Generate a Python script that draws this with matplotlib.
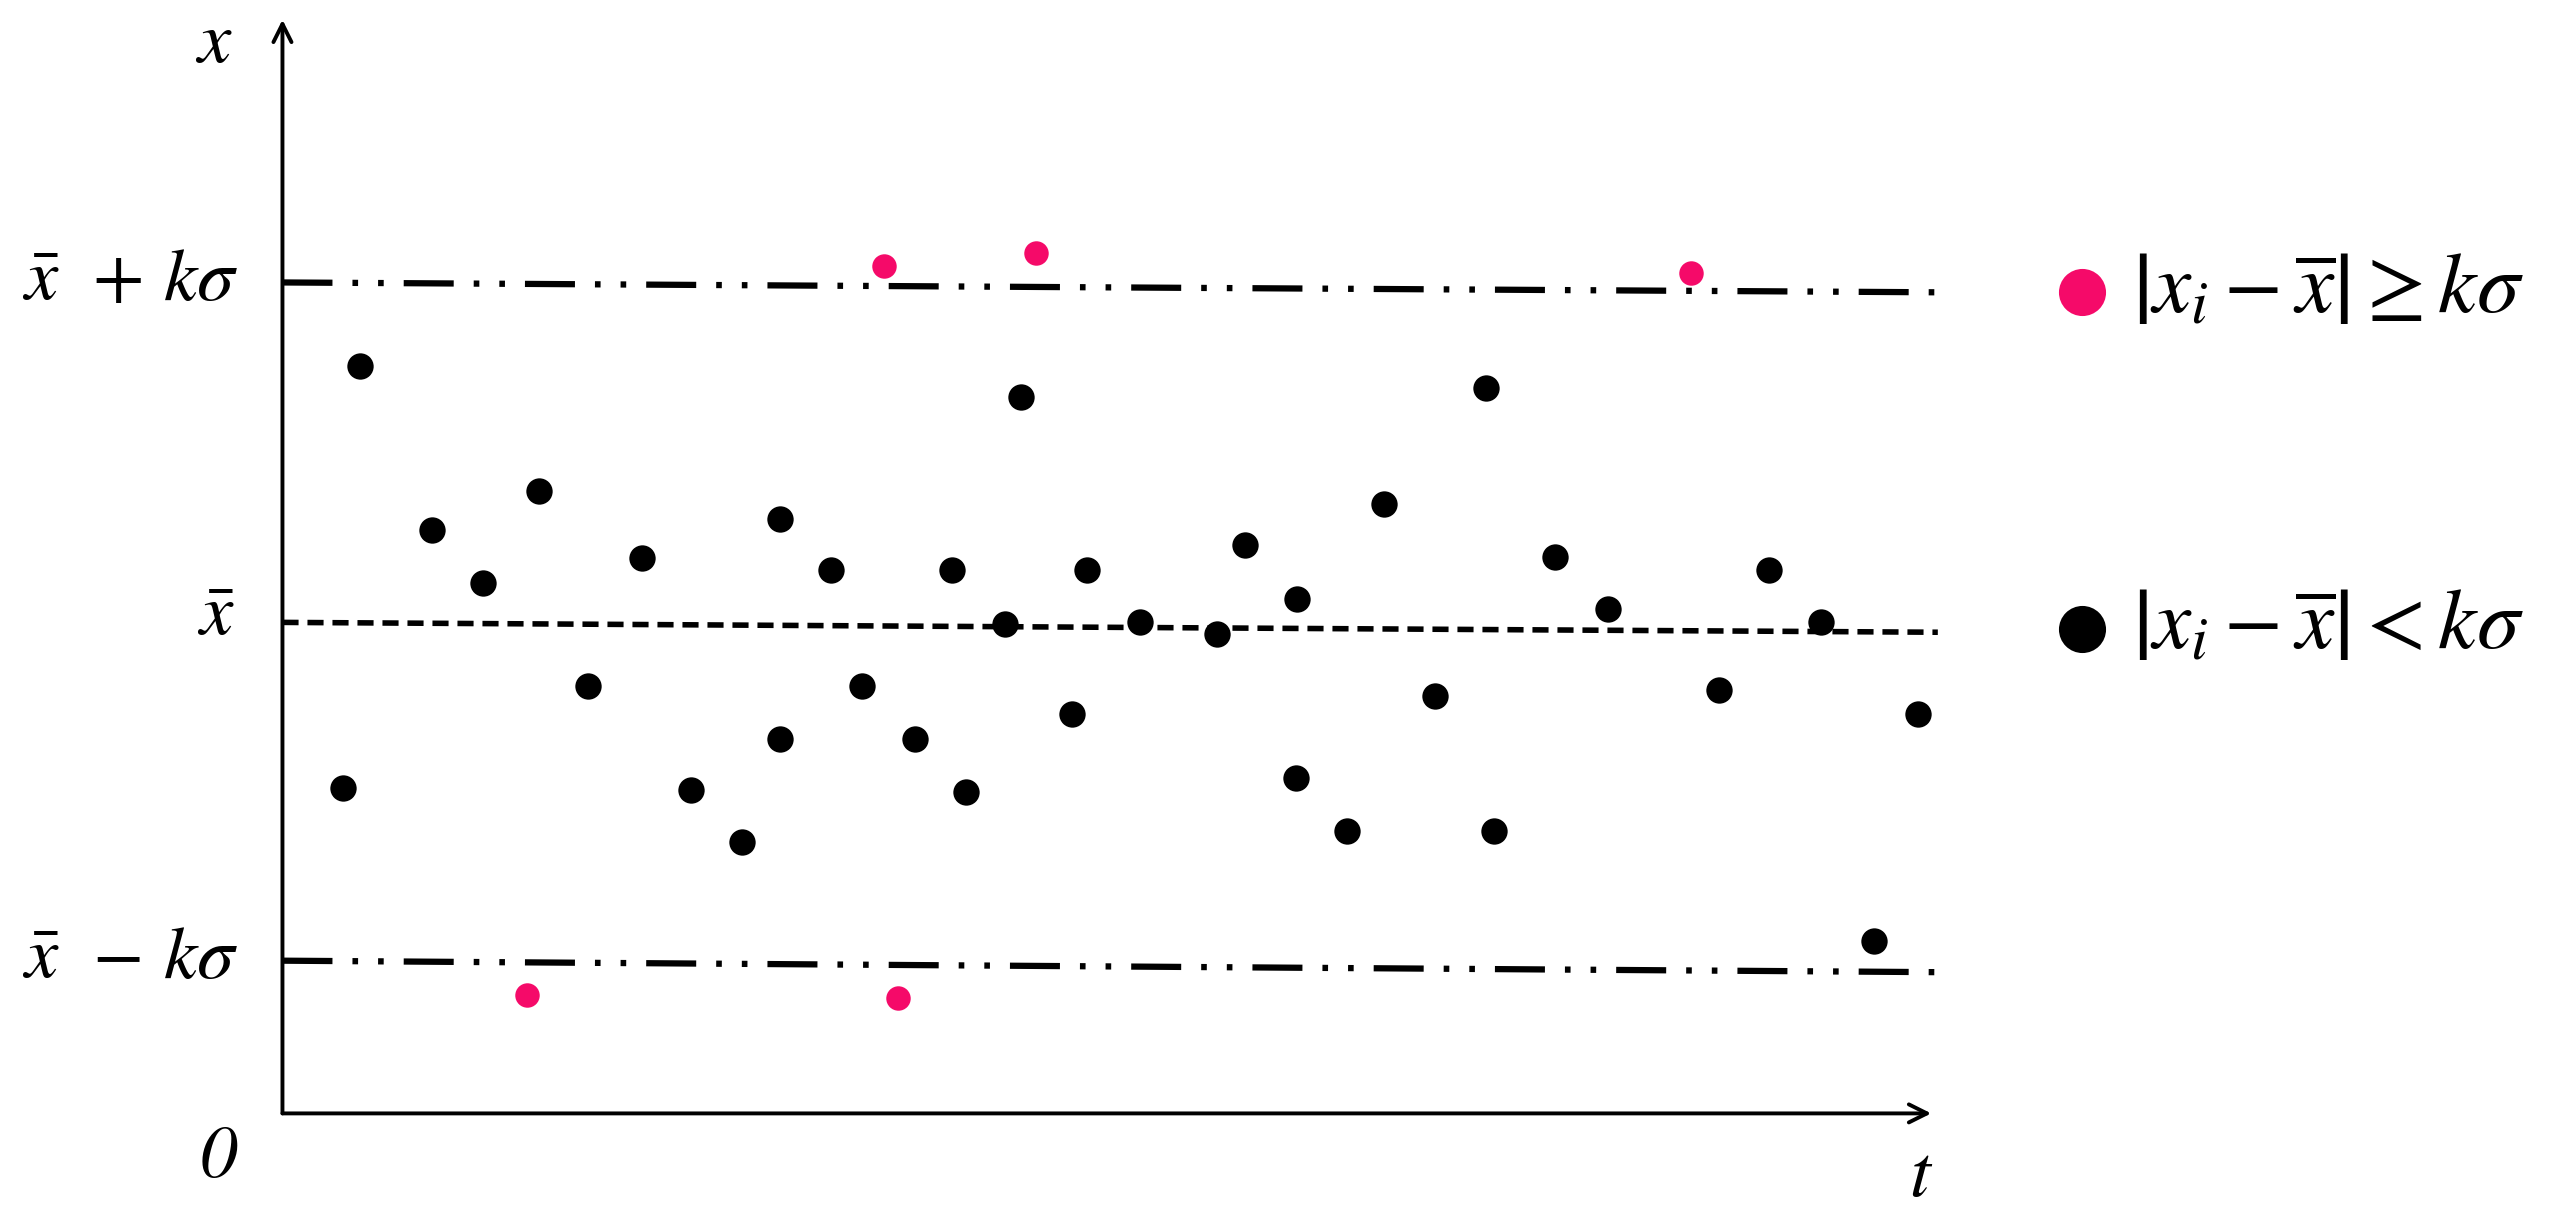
import matplotlib
matplotlib.use("Agg")
import matplotlib.pyplot as plt
import numpy as np

plt.rcParams['mathtext.fontset'] = 'stix'
plt.rcParams['font.family'] = ['STIXGeneral', 'DejaVu Serif']

# 資料點 (t, x)：在 kσ 範圍內的黑點
t_in = [37, 47, 91, 122, 156, 186, 219, 249, 280, 303, 303, 334, 353, 385, 408, 416,
        440, 450, 481, 490, 522, 569, 586, 617, 618, 648, 671, 702, 733, 738, 775,
        807, 875, 905, 937, 969, 996]
x_in = [198, 455, 355, 323, 379, 260, 338, 197, 165, 362, 228, 331, 260, 228, 331, 196,
        298, 436, 243, 331, 299, 292, 346, 204, 313, 172, 371, 254, 442, 172, 339,
        307, 258, 331, 299, 105, 243]

# 超出 kσ 的粉紅點
t_out = [149, 366, 375, 459, 858]
x_out = [72, 516, 70, 524, 512]

# 參考線 (左端, 右端)
line_t = [0, 1008]
upper = [506, 500]
mean = [299, 293]
lower = [93, 86]

pink = '#F50A69'

fig = plt.figure(figsize=(25.75, 12.3), dpi=100)
ax = fig.add_axes([0, 0, 1, 1])
ax.set_xlim(-172, 1396)
ax.set_ylim(-71, 678)
ax.axis('off')

# 座標軸箭頭
arrow = dict(arrowstyle='->,head_length=1.3,head_width=0.65', lw=2.8, color='black',
             shrinkA=0, shrinkB=0)
ax.annotate('', xy=(0, 666), xytext=(0, 0), arrowprops=arrow)
ax.annotate('', xy=(1004, 0), xytext=(0, 0), arrowprops=arrow)

# 上下界與平均線
dashdotdot = (0, (8.0, 3.2, 0.9, 3.2, 0.9, 3.2))
ax.plot(line_t, upper, color='black', lw=4.5, linestyle=dashdotdot, dash_capstyle='butt')
ax.plot(line_t, lower, color='black', lw=4.5, linestyle=dashdotdot, dash_capstyle='butt')
ax.plot(line_t, mean, color='black', lw=4.0, linestyle=(0, (2.9, 1.6)), dash_capstyle='butt')

ax.scatter(t_in, x_in, s=360, color='black', zorder=3, linewidths=0)
ax.scatter(t_out, x_out, s=310, color=pink, zorder=3, linewidths=0)

# 左側標籤
fs = 54
ax.text(-27, upper[0], r'$\bar{x}\;\,+\,k\sigma$', fontsize=fs, ha='right', va='center')
ax.text(-29, mean[0] + 2, r'$\bar{x}$', fontsize=fs, ha='right', va='center')
ax.text(-27, lower[0], r'$\bar{x}\;\,-\,k\sigma$', fontsize=fs, ha='right', va='center')
ax.text(-42, 650, r'$x$', fontsize=fs, ha='center', va='center')
ax.text(-39, -28, '0', fontsize=fs, fontstyle='italic', ha='center', va='center')
ax.text(998, -40, r'$t$', fontsize=fs, ha='center', va='center')

# 圖例
ax.scatter([1096], [500], s=1150, color=pink, linewidths=0)
ax.scatter([1096], [295], s=1150, color='black', linewidths=0)
ax.text(1126, 500, r'$\left|x_i-\overline{x}\right|\geq k\sigma$', fontsize=62,
        ha='left', va='center')
ax.text(1126, 295, r'$\left|x_i-\overline{x}\right|< k\sigma$', fontsize=62,
        ha='left', va='center')

fig.savefig('out.png', dpi=100)
